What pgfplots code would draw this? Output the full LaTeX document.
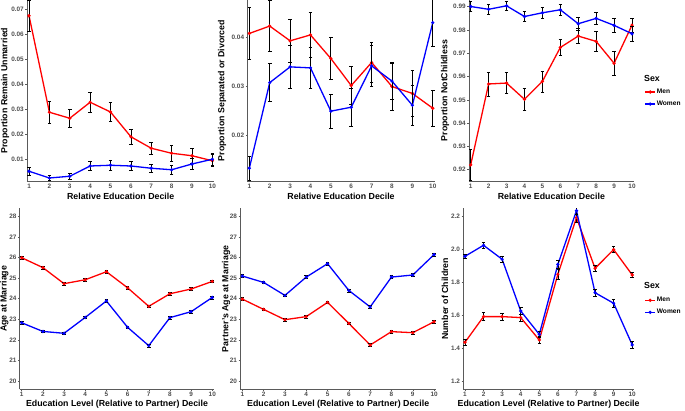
\documentclass[border=0pt]{standalone}
\usepackage{fontspec}
\setmainfont{Liberation Sans}
\usepackage{pgfplots}
\pgfplotsset{compat=1.18}
\definecolor{tickgray}{HTML}{4D4D4D}
\definecolor{axgray}{HTML}{5A5A5A}
\definecolor{menred}{HTML}{FF0000}
\definecolor{womenblue}{HTML}{0000FF}
\pgfplotsset{
  panel/.style={
    scale only axis, anchor=south west,
    xmin=0.9, xmax=10.1, xtick={1,...,10},
    axis lines*=left,
    axis line style={-, draw=axgray, line width=0.7pt},
    tick style={draw=axgray, line width=0.5pt},
    major tick length=1.5pt, tick align=outside,
    /pgf/number format/assume math mode=true,
    tick label style={font=\fontsize{6.4}{7}\selectfont\bfseries, text=tickgray},
    xticklabel style={inner sep=1pt},
    yticklabel style={inner sep=1.5pt},
    label style={font=\fontsize{8.8}{10}\selectfont\bfseries},
    clip mode=individual,
  },
  ylab/.style={ylabel style={at={(axis description cs:#1,0.5)}, anchor=center}},
  xlab/.style={xlabel style={at={(axis description cs:0.5,#1)}, anchor=center}},
  men/.style={menred, line width=1.3pt, mark=*, mark size=0.9pt, mark options={fill=menred},
    error bars/.cd, y dir=both, y explicit,
    error bar style={black, line width=0.75pt},
    error mark options={rotate=90, black, mark size=1.8pt, line width=0.75pt}},
  women/.style={womenblue, line width=1.3pt, mark=*, mark size=0.9pt, mark options={fill=womenblue},
    error bars/.cd, y dir=both, y explicit,
    error bar style={black, line width=0.75pt},
    error mark options={rotate=90, black, mark size=1.8pt, line width=0.75pt}},
  leg/.style={legend style={at={(rel axis cs:#1)}, anchor=north west, draw=none, fill=none,
    font=\fontsize{6.6}{7.5}\selectfont\bfseries, row sep=4pt, inner sep=0pt,
    nodes={inner sep=1pt}},
    legend cell align=left,
    legend image code/.code={\draw[##1, mark repeat=2, mark phase=2] plot coordinates {(0pt,0pt) (5pt,0pt) (10pt,0pt)};}},
}
\begin{document}
\begin{tikzpicture}
\path[use as bounding box] (0,0) rectangle (685pt,410pt);

% Panel 1
\begin{axis}[panel, at={(27pt,229pt)}, width=187.4pt, height=181pt,
  ymin=0.0012, ymax=0.0736,
  ytick={0.01,0.02,0.03,0.04,0.05,0.06,0.07},
  yticklabels={0.01,0.02,0.03,0.04,0.05,0.06,0.07},
  ylabel={Proportion Remain Unmarried}, xlabel={Relative Education Decile},
  ylab=-0.117, xlab=-0.087]
\addplot[men] table[x=x, y=y, y error=e] {
x y e
1 0.0673 0.0063
2 0.0287 0.0043
3 0.0263 0.0035
4 0.0327 0.0040
5 0.0288 0.0039
6 0.0189 0.0030
7 0.0143 0.0025
8 0.0123 0.0033
9 0.0113 0.0030
10 0.0093 0.0024
};
\addplot[women] table[x=x, y=y, y error=e] {
x y e
1 0.0051 0.0016
2 0.0024 0.0010
3 0.0031 0.0013
4 0.0072 0.0018
5 0.0075 0.0019
6 0.0072 0.0019
7 0.0063 0.0017
8 0.0057 0.0017
9 0.0080 0.0023
10 0.0099 0.0023
};
\end{axis}

% Panel 2
\begin{axis}[panel, at={(247.3pt,229pt)}, width=187.5pt, height=181pt,
  ymin=0.0108, ymax=0.0476,
  ytick={0.02,0.03,0.04}, yticklabels={0.02,0.03,0.04},
  ylabel={Proportion Separated or Divorced}, xlabel={Relative Education Decile},
  ylab=-0.135, xlab=-0.087]
\addplot[men] table[x=x, y=y, y error=e] {
x y e
1 0.0408 0.0053
2 0.0423 0.0052
3 0.0393 0.0044
4 0.0405 0.0045
5 0.0357 0.0042
6 0.0302 0.0039
7 0.0349 0.0041
8 0.0300 0.0048
9 0.0286 0.0046
10 0.0256 0.0036
};
\addplot[women] table[x=x, y=y, y error=e] {
x y e
1 0.0134 0.0025
2 0.0308 0.0039
3 0.0340 0.0044
4 0.0338 0.0042
5 0.0250 0.0035
6 0.0258 0.0038
7 0.0342 0.0042
8 0.0311 0.0038
9 0.0262 0.0041
10 0.0430 0.0048
};
\end{axis}

% Panel 3
\begin{axis}[panel, at={(468.9pt,229pt)}, width=164.9pt, height=181pt,
  ymin=0.9151, ymax=0.9929,
  ytick={0.92,0.93,0.94,0.95,0.96,0.97,0.98,0.99},
  yticklabels={0.92,0.93,0.94,0.95,0.96,0.97,0.98,0.99},
  ylabel={Proportion NotChildless}, xlabel={Relative Education Decile},
  ylab=-0.145, xlab=-0.087, leg={1.064,0.515}]
\addplot[men] table[x=x, y=y, y error=e] {
x y e
1 0.9220 0.0066
2 0.9568 0.0052
3 0.9572 0.0044
4 0.9502 0.0049
5 0.9579 0.0045
6 0.9725 0.0034
7 0.9774 0.0032
8 0.9751 0.0042
9 0.9657 0.0051
10 0.9821 0.0030
};
\addlegendentry{Men}
\addplot[women] table[x=x, y=y, y error=e] {
x y e
1 0.9901 0.0020
2 0.9889 0.0022
3 0.9904 0.0021
4 0.9858 0.0023
5 0.9874 0.0024
6 0.9887 0.0024
7 0.9827 0.0029
8 0.9850 0.0024
9 0.9820 0.0029
10 0.9784 0.0032
};
\addlegendentry{Women}
\node[anchor=west, font=\fontsize{8.8}{10}\selectfont\bfseries, inner sep=0pt] at (rel axis cs:1.062,0.569) {Sex};
\end{axis}

% Panel 4
\begin{axis}[panel, at={(19.6pt,20.7pt)}, width=194.8pt, height=181pt,
  ymin=19.6, ymax=28.39, ytick={20,...,28},
  ylabel={Age at Marriage}, xlabel={Education Level (Relative to Partner) Decile},
  ylab=-0.078, xlab=-0.081]
\addplot[men] table[x=x, y=y, y error=e] {
x y e
1 25.99 0.08
2 25.51 0.08
3 24.73 0.08
4 24.92 0.07
5 25.31 0.07
6 24.53 0.07
7 23.63 0.07
8 24.24 0.07
9 24.47 0.07
10 24.84 0.06
};
\addplot[women] table[x=x, y=y, y error=e] {
x y e
1 22.83 0.06
2 22.41 0.06
3 22.32 0.06
4 23.09 0.06
5 23.89 0.06
6 22.61 0.06
7 21.72 0.06
8 23.08 0.07
9 23.37 0.07
10 24.06 0.07
};
\end{axis}

% Panel 5
\begin{axis}[panel, at={(240.2pt,20.7pt)}, width=196pt, height=181pt,
  ymin=19.6, ymax=28.39, ytick={20,...,28},
  ylabel={Partner's Age at Marriage}, xlabel={Education Level (Relative to Partner) Decile},
  ylab=-0.072, xlab=-0.081]
\addplot[men] table[x=x, y=y, y error=e] {
x y e
1 23.98 0.07
2 23.48 0.07
3 22.98 0.07
4 23.13 0.07
5 23.82 0.07
6 22.80 0.07
7 21.75 0.07
8 22.40 0.06
9 22.35 0.06
10 22.88 0.06
};
\addplot[women] table[x=x, y=y, y error=e] {
x y e
1 25.10 0.07
2 24.79 0.07
3 24.16 0.07
4 25.05 0.07
5 25.70 0.07
6 24.40 0.07
7 23.60 0.07
8 25.05 0.08
9 25.15 0.08
10 26.14 0.08
};
\end{axis}

% Panel 6
\begin{axis}[panel, at={(463.1pt,20.7pt)}, width=171pt, height=181pt,
  ymin=1.1496, ymax=2.2486,
  ytick={1.2,1.4,1.6,1.8,2.0,2.2}, yticklabels={1.2,1.4,1.6,1.8,2.0,2.2},
  ylabel={Number of Children}, xlabel={Education Level (Relative to Partner) Decile},
  ylab=-0.106, xlab=-0.081, leg={1.060,0.515}]
\addplot[men] table[x=x, y=y, y error=e] {
x y e
1 1.435 0.020
2 1.591 0.025
3 1.591 0.022
4 1.585 0.020
5 1.449 0.022
6 1.848 0.030
7 2.192 0.028
8 1.884 0.018
9 1.998 0.020
10 1.844 0.016
};
\addlegendentry{Men}
\addplot[women] table[x=x, y=y, y error=e] {
x y e
1 1.957 0.012
2 2.024 0.018
3 1.939 0.018
4 1.625 0.020
5 1.483 0.020
6 1.908 0.025
7 2.234 0.022
8 1.736 0.020
9 1.672 0.025
10 1.419 0.020
};
\addlegendentry{Women}
\node[anchor=west, font=\fontsize{8.8}{10}\selectfont\bfseries, inner sep=0pt] at (rel axis cs:1.058,0.571) {Sex};
\end{axis}
\end{tikzpicture}
\end{document}
